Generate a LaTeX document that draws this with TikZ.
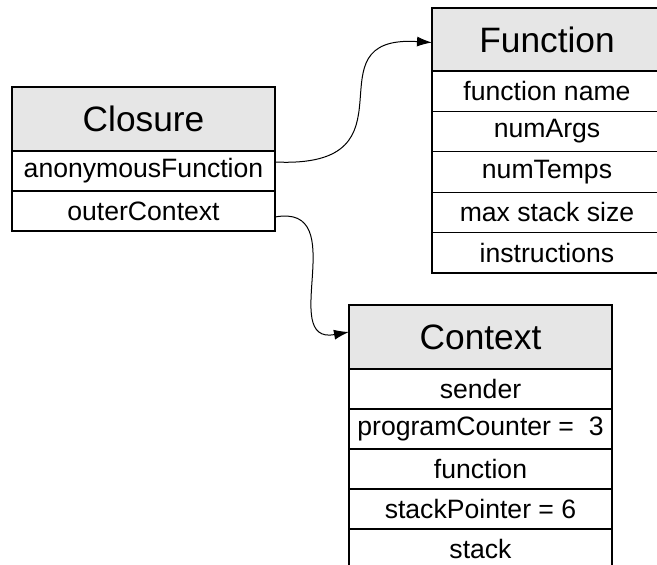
\documentclass[tikz,border=0pt]{standalone}
\usepackage{fontspec}
\setmainfont{Liberation Sans}
\usetikzlibrary{arrows.meta}
\definecolor{headfill}{HTML}{E6E6E6}
\tikzset{
  cell/.style={draw=black, line width=1.3pt, inner sep=0pt, outer sep=0pt,
    minimum height=40pt, font=\fontsize{26.6}{30}\selectfont, fill=white},
  head/.style={cell, fill=headfill, minimum height=64pt,
    font=\fontsize{35.3}{40}\selectfont},
  ptr/.style={line width=1pt, -{Latex[length=15pt,width=10pt]}},
}
\begin{document}
\begin{tikzpicture}[x=1pt, y=-1pt]
\useasboundingbox (0,0) rectangle (657,565);
\clip (0,0) rectangle (657,565);

% Closure record
\begin{scope}[every node/.append style={minimum width=263pt}]
  \node[head] (cl-h) at (143.5,119) {Closure};
  \node[cell] (cl-1) at (143.5,171) {anonymousFunction};
  \node[cell] (cl-2) at (143.5,211) {outerContext};
\end{scope}

% Function record (runs past the right edge)
\begin{scope}[every node/.append style={minimum width=230pt}]
  \node[head, minimum height=63pt] (fn-h) at (547,39.5) {Function};
  \node[cell, minimum height=40.4pt] (fn-1) at (547,91.2) {function name};
  \node[cell, minimum height=40.4pt] (fn-2) at (547,131.6) {numArgs};
  \node[cell, minimum height=40.4pt] (fn-3) at (547,172.0) {numTemps};
  \node[cell, minimum height=40.4pt] (fn-4) at (547,212.4) {max stack size};
  \node[cell, minimum height=40.4pt] (fn-5) at (547,252.8) {instructions};
\end{scope}

% Context record (runs past the bottom edge)
\begin{scope}[every node/.append style={minimum width=263pt}]
  \node[head] (cx-h) at (480.5,337) {Context};
  \node[cell] (cx-1) at (480.5,389) {sender};
  \node[cell] (cx-2) at (480.5,429) {programCounter =\ \ 3};
  \node[cell] (cx-3) at (480.5,469) {function};
  \node[cell] (cx-4) at (480.5,509) {stackPointer = 6};
  \node[cell] (cx-5) at (480.5,549) {stack};
\end{scope}

% Pointers
\draw[ptr] ([yshift=9pt]cl-1.east) .. controls +(150,7) and +(-128,-8) .. ([yshift=-3pt]fn-h.west);
\draw[ptr] ([yshift=-6pt]cl-2.east) .. controls +(78,-14) and +(-72,13) .. ([yshift=5pt]cx-h.west);
\end{tikzpicture}
\end{document}
